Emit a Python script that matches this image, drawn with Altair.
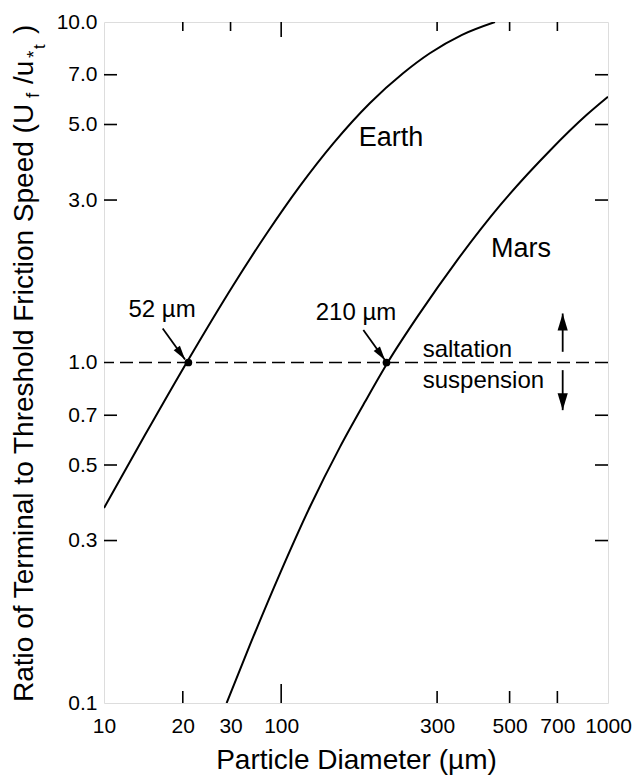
import altair as alt
import pandas as pd

# ---------------- data ----------------
earth_d = [28.7, 38.3, 51.4, 71.2, 90.3, 114.2, 144.4, 187, 236, 285, 357.6, 451]
earth_r = [0.374, 0.612, 1.0, 1.681, 2.392, 3.301, 4.401, 5.783, 7.07, 8.094, 9.17, 10.0]
mars_d = [68.1, 80.3, 99.2, 122.5, 151.4, 180.5, 211.8, 266, 344.5, 467.2, 664.8, 861, 1000]
mars_r = [0.1, 0.1483, 0.2403, 0.377, 0.5653, 0.7665, 1.0, 1.399, 1.989, 2.893, 4.195, 5.337, 6.03]

threshold_d = [52, 210]
threshold_r = [1.0, 1.0]

x_tick_values = [28.7, 50, 70, 100, 300, 500, 700, 1000]
x_tick_labels = ["10", "20", "30", "100", "300", "500", "700", "1000"]
y_tick_values = [0.1, 0.3, 0.5, 0.7, 1.0, 3.0, 5.0, 7.0, 10.0]

bottom_minor = [50, 300, 500, 700]
bottom_major = [100]
top_minor = [50, 70, 300, 500, 700]
top_major = [100]
left_ticks = [0.3, 0.5, 0.7, 3.0, 5.0, 7.0]
right_ticks = [0.3, 0.5, 0.7, 3.0, 5.0, 7.0]

curve_labels = ["Earth", "Mars"]
curve_label_d = [216.8, 541.8]
curve_label_r = [4.316, 2.042]

ann_labels = ["52 \u00b5m", "210 \u00b5m"]
ann_d = [43.2, 169.4]
ann_r = [1.362, 1.331]

regime_labels = ["saltation", "suspension"]
regime_d = [271, 271]
regime_r = [1.039, 0.8425]

pointer_d1 = [43.4, 178.4]
pointer_r1 = [1.259, 1.245]
pointer_d2 = [50.8, 207.9]
pointer_r2 = [1.021, 1.016]

vert_d = [726.7, 726.7]
vert_r1 = [1.075, 0.9496]
vert_r2 = [1.393, 0.7245]

# ---------------- scales / axes ----------------
W, H = 504, 681
FONT = "Liberation Sans"

X_SCALE = alt.Scale(type="log", domain=[28.7, 1000], nice=False)
Y_SCALE = alt.Scale(type="log", domain=[0.1, 10], nice=False)

label_expr = "[{}][indexof([{}], datum.value)]".format(
    ",".join("'%s'" % s for s in x_tick_labels),
    ",".join(str(v) for v in x_tick_values),
)

X_AXIS = alt.Axis(values=x_tick_values, labelExpr=label_expr, ticks=False, domain=False,
                  grid=False, labelFontSize=21, labelPadding=12, labelFlush=False,
                  labelOverlap=False, labelColor="black", labelFont=FONT,
                  title="Particle Diameter (\u00b5m)", titleFontSize=28,
                  titleFontWeight="normal", titleFont=FONT, titleColor="black",
                  titleY=65, titleBaseline="alphabetic")
Y_AXIS = alt.Axis(values=y_tick_values, format=".1f", ticks=False, domain=False,
                  grid=False, labelFontSize=21, labelPadding=7, labelFlush=False,
                  labelOverlap=False, labelColor="black", labelFont=FONT, title=None)


def X(f):
    return alt.X(f, type="quantitative", scale=X_SCALE, axis=X_AXIS)


def Y(f):
    return alt.Y(f, type="quantitative", scale=Y_SCALE, axis=Y_AXIS)


curves = pd.DataFrame({
    "d": earth_d + mars_d,
    "r": earth_r + mars_r,
    "planet": ["Earth"] * len(earth_d) + ["Mars"] * len(mars_d),
})

line_layer = alt.Chart(curves).mark_line(color="black", strokeWidth=2, interpolate="monotone",
                                         clip=True).encode(
    x=X("d"), y=Y("r"), detail="planet:N")

dash_layer = alt.Chart(pd.DataFrame({"r": [1.0]})).mark_rule(
    color="black", strokeWidth=1.6, strokeDash=[13, 6]).encode(y=Y("r"))

dots = alt.Chart(pd.DataFrame({"d": threshold_d, "r": threshold_r})).mark_circle(
    color="black", size=60, opacity=1).encode(x=X("d"), y=Y("r"))


def xticks(vals, length, top):
    df = pd.DataFrame({"v": vals})
    if top:
        return alt.Chart(df).mark_rule(color="black", strokeWidth=1.6).encode(
            x=X("v"), y=alt.value(0), y2=alt.value(length))
    return alt.Chart(df).mark_rule(color="black", strokeWidth=1.6).encode(
        x=X("v"), y=alt.value(H), y2=alt.value(H - length))


def yticks(vals, length, right):
    df = pd.DataFrame({"v": vals})
    if right:
        return alt.Chart(df).mark_rule(color="black", strokeWidth=1.6).encode(
            y=Y("v"), x=alt.value(W), x2=alt.value(W - length))
    return alt.Chart(df).mark_rule(color="black", strokeWidth=1.6).encode(
        y=Y("v"), x=alt.value(0), x2=alt.value(length))


tick_layers = [
    xticks(bottom_minor, 12, False), xticks(bottom_major, 19, False),
    xticks(top_minor, 9, True), xticks(top_major, 15, True),
    yticks(left_ticks, 13, False), yticks(right_ticks, 13, True),
]

curve_text = alt.Chart(pd.DataFrame({"t": curve_labels, "d": curve_label_d, "r": curve_label_r})).mark_text(
    fontSize=27, font=FONT, align="center", baseline="alphabetic", color="black").encode(
    x=X("d"), y=Y("r"), text="t:N")

ann_text = alt.Chart(pd.DataFrame({"t": ann_labels, "d": ann_d, "r": ann_r})).mark_text(
    fontSize=24, font=FONT, align="center", baseline="alphabetic", color="black").encode(
    x=X("d"), y=Y("r"), text="t:N")

regime_text = alt.Chart(pd.DataFrame({"t": regime_labels, "d": regime_d, "r": regime_r})).mark_text(
    fontSize=24, font=FONT, align="left", baseline="alphabetic", color="black").encode(
    x=X("d"), y=Y("r"), text="t:N")

pointers = pd.DataFrame({"d1": pointer_d1, "r1": pointer_r1, "d2": pointer_d2, "r2": pointer_r2})
pointer_shaft = alt.Chart(pointers).mark_rule(color="black", strokeWidth=1.8).encode(
    x=X("d1"), y=Y("r1"), x2="d2:Q", y2="r2:Q")
HEAD = "M0,0L-0.55,-2L0.55,-2Z"
pointer_head = alt.Chart(pointers).mark_point(
    shape=HEAD, filled=True, size=196, angle=324, color="black", opacity=1, strokeWidth=0).encode(
    x=X("d2"), y=Y("r2"))

verts = pd.DataFrame({"d": vert_d, "r1": vert_r1, "r2": vert_r2})
vert_shaft = alt.Chart(verts).mark_rule(color="black", strokeWidth=1.8).encode(
    x=X("d"), y=Y("r1"), y2="r2:Q")
VHEAD = "M0,0L-0.6,-2L0.6,-2Z"
up_head = alt.Chart(verts.iloc[[0]]).mark_point(
    shape=VHEAD, filled=True, size=289, angle=180, color="black", opacity=1, strokeWidth=0).encode(
    x=X("d"), y=Y("r2"))
down_head = alt.Chart(verts.iloc[[1]]).mark_point(
    shape=VHEAD, filled=True, size=289, angle=0, color="black", opacity=1, strokeWidth=0).encode(
    x=X("d"), y=Y("r2"))

# y-axis title, built from pieces so the subscripts can be drawn
title_pieces = [
    ("Ratio of Terminal to Threshold Friction Speed (U", 28, -71, 680),
    ("f", 19, -65, 76),
    ("/u", 28, -71, 62),
    ("*", 19, -64, 36),
    ("t", 17, -59, 27),
    (")", 28, -71, 12),
]
title_layers = []
for txt, fs, px, py in title_pieces:
    title_layers.append(
        alt.Chart(pd.DataFrame({"t": [txt]})).mark_text(
            fontSize=fs, font=FONT, angle=270, align="left", baseline="alphabetic",
            color="black").encode(text="t:N", x=alt.value(px), y=alt.value(py)))

chart = alt.layer(
    line_layer, dash_layer, dots, *tick_layers, curve_text, ann_text, regime_text,
    pointer_shaft, pointer_head, vert_shaft, up_head, down_head, *title_layers,
).properties(
    width=W, height=H,
    autosize=alt.AutoSizeParams(type="none"),
    padding={"left": 104, "top": 22, "right": 32, "bottom": 77},
    background="white",
).configure_view(stroke="black", strokeWidth=2).configure(font=FONT)

chart.save("out.html", embed_options={"renderer": "svg", "actions": False})
